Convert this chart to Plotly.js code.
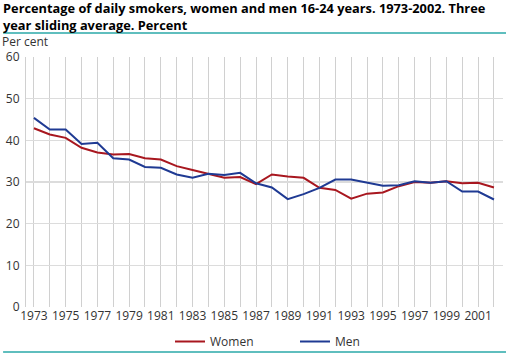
<!DOCTYPE html>
<html><head><meta charset="utf-8">
<script src="https://cdn.plot.ly/plotly-3.0.1.min.js"></script>
<style>html,body{margin:0;padding:0;background:#fff}#c{width:506px;height:353px}</style>
</head><body><div id="c"></div>
<script>
const years = [1973,1974,1975,1976,1977,1978,1979,1980,1981,1982,1983,1984,1985,1986,1987,1988,1989,1990,1991,1992,1993,1994,1995,1996,1997,1998,1999,2000,2001,2002];
const women = [42.9,41.4,40.6,38.2,37.1,36.6,36.7,35.7,35.4,33.8,32.9,31.9,31.0,31.2,29.5,31.8,31.3,31.0,28.6,28.1,26.0,27.2,27.5,29.0,30.0,29.8,30.2,29.7,29.8,28.7];
const men = [45.4,42.6,42.6,39.1,39.4,35.7,35.4,33.6,33.4,31.8,31.0,32.0,31.7,32.2,29.7,28.7,25.9,27.1,28.6,30.6,30.6,29.9,29.1,29.2,30.2,29.8,30.2,27.7,27.7,25.8];
const xTickVals = [1973,1975,1977,1979,1981,1983,1985,1987,1989,1991,1993,1995,1997,1999,2001];
const seriesNames = ["Women","Men"];
const titleText = "Percentage of daily smokers, women and men 16-24 years. 1973-2002. Three<br>year sliding average. Percent";
const yUnit = "Per cent";

const font = "Open Sans, sans-serif";
const traces = [
  {x: years, y: women, name: seriesNames[0], type: 'scatter', mode: 'lines', line: {color: '#a8171f', width: 2}},
  {x: years, y: men, name: seriesNames[1], type: 'scatter', mode: 'lines', line: {color: '#1f3a93', width: 2}}
];
const layout = {
  width: 506, height: 353,
  margin: {l: 26, r: 3, t: 57, b: 46},
  paper_bgcolor: '#fff', plot_bgcolor: '#fff',
  font: {family: font, size: 12, color: '#333'},
  title: {text: titleText, xref: 'container', x: 0.006, xanchor: 'left', yref: 'container', y: 0.962, yanchor: 'top',
          font: {family: font, size: 12.8, color: '#000', weight: 'bold'}},
  xaxis: {range: [1972.5, 2002.57], tickvals: xTickVals, ticktext: xTickVals.map(String), showgrid: true, gridcolor: '#d0d0d0', gridwidth: 1,
          minor: {dtick: 1, tick0: 1973, showgrid: true, gridcolor: '#d0d0d0', gridwidth: 1},
          zeroline: false, showline: false, ticks: '', tickfont: {size: 12, color: '#333'}},
  yaxis: {range: [0, 60], dtick: 10, showgrid: true, gridcolor: '#dcdcdc', gridwidth: 1.5, zeroline: false,
          showline: true, linecolor: '#d0d0d0', linewidth: 1, ticks: '', ticklabelstandoff: 3, tickfont: {size: 12, color: '#333'}},
  showlegend: true,
  legend: {orientation: 'h', xref: 'container', x: 170/506, xanchor: 'left', yref: 'container', y: 1 - 327/353, yanchor: 'top',
           bgcolor: 'rgba(0,0,0,0)', font: {size: 12, color: '#333'}, entrywidth: 80, entrywidthmode: 'pixels', tracegroupgap: 0},
  annotations: [{text: yUnit, xref: 'paper', yref: 'paper', x: -0.054, xanchor: 'left', y: 1.06, yanchor: 'middle', showarrow: false, font: {size: 12, color: '#333'}}],
  shapes: [
    {type: 'line', xref: 'paper', yref: 'paper', x0: -0.048, x1: 1.01, y0: 1.096, y1: 1.096, line: {color: '#2aa8a8', width: 1.5}},
    {type: 'line', xref: 'paper', yref: 'paper', x0: -0.048, x1: 1.01, y0: -0.18, y1: -0.18, line: {color: '#2aa8a8', width: 1.5}}
  ]
};
Plotly.newPlot('c', traces, layout, {displayModeBar: false, staticPlot: true});
</script></body></html>
